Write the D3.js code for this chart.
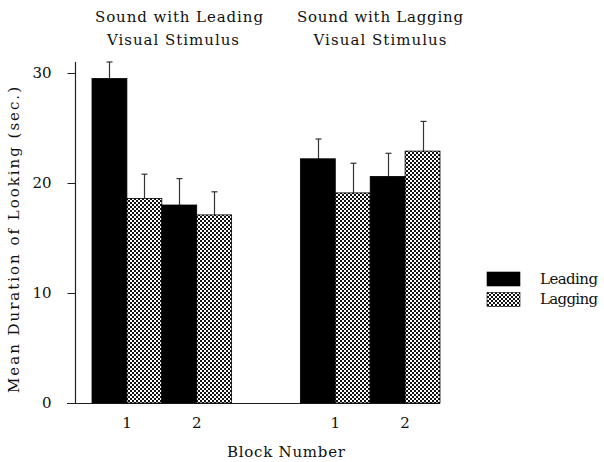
<!DOCTYPE html>
<html><head><meta charset="utf-8">
<script src="https://cdn.jsdelivr.net/npm/d3@7"></script>
<style>body{margin:0;background:#fff}svg{display:block}text{font-family:"DejaVu Serif",serif}</style>
</head><body>
<svg id="c" width="604" height="462"></svg>
<script>
const groups = ["Sound with Leading|Visual Stimulus", "Sound with Lagging|Visual Stimulus"];
const blocks = ["1", "2"];
const series = ["Leading", "Lagging"];
const leadingMeans = [29.5, 18.0, 22.2, 20.6];
const leadingErr = [31.0, 20.4, 24.0, 22.7];
const laggingMeans = [18.6, 17.1, 19.1, 22.9];
const laggingErr = [20.8, 19.2, 21.8, 25.6];
const yTicks = [0, 10, 20, 30];

const svg = d3.select("#c");
const font = '"DejaVu Serif", serif';
const defs = svg.append("defs");
const pat = defs.append("pattern").attr("id","hatch").attr("patternUnits","userSpaceOnUse")
  .attr("width",4).attr("height",4);
pat.append("rect").attr("width",4).attr("height",4).attr("fill","#fff");
pat.append("rect").attr("x",0).attr("y",0).attr("width",2).attr("height",2).attr("fill","#111");
pat.append("rect").attr("x",2).attr("y",2).attr("width",2).attr("height",2).attr("fill","#111");

const y = d3.scaleLinear().domain([0,30]).range([403,73]);
const xGroup = d3.scaleBand().domain([0,1]).range([92,440]).paddingInner(0.33).paddingOuter(0);
const rows = [];
groups.forEach((g,gi)=>blocks.forEach((b,bi)=>{
  const idx = gi*2+bi;
  rows.push({gi,bi,b,series:"Leading",v:leadingMeans[idx],e:leadingErr[idx]});
  rows.push({gi,bi,b,series:"Lagging",v:laggingMeans[idx],e:laggingErr[idx]});
}));
const xBlock = d3.scaleBand().domain([0,1]).range([0,xGroup.bandwidth()]);
const xSeries = d3.scaleBand().domain(series).range([0,xBlock.bandwidth()]);
const bx = d => xGroup(d.gi)+xBlock(d.bi)+xSeries(d.series);
const bw = xSeries.bandwidth();

svg.append("line").attr("x1",67).attr("x2",440).attr("y1",y(0)+0.5).attr("y2",y(0)+0.5)
  .attr("stroke","#222").attr("stroke-width",1.2);

const eb = svg.append("g").attr("stroke","#333").attr("stroke-width",1.2);
rows.forEach(d=>{
  const cx = Math.round(bx(d)+bw/2)+0.5;
  eb.append("line").attr("x1",cx).attr("x2",cx).attr("y1",y(d.v)).attr("y2",y(d.e));
  eb.append("line").attr("x1",cx-3).attr("x2",cx+3).attr("y1",y(d.e)).attr("y2",y(d.e));
});
svg.append("g").selectAll("rect").data(rows).join("rect")
  .attr("x",bx).attr("width",bw)
  .attr("y",d=>y(d.v)).attr("height",d=>y(0)-y(d.v))
  .attr("fill",d=>d.series==="Leading"?"#000":"url(#hatch)")
  .attr("stroke","#000").attr("stroke-width",0.8);

const ax = svg.append("g").attr("transform","translate(75.5,0)")
  .call(d3.axisLeft(y).tickValues(yTicks).tickSize(8).tickPadding(16).tickFormat(d3.format("d")));
ax.attr("font-family",null);
ax.select(".domain").attr("d","M0,62V"+y(0)).attr("stroke","#222").attr("stroke-width",1.2);
ax.selectAll(".tick line").attr("stroke","#222");
ax.selectAll(".tick text").style("font-family",font).style("font-size","15px").attr("fill","#111");

rows.filter(d=>d.series==="Leading").forEach(d=>{
  svg.append("text").attr("x",xGroup(d.gi)+xBlock(d.bi)+xBlock.bandwidth()/2).attr("y",428)
    .attr("text-anchor","middle").style("font-size","15px").attr("fill","#111").text(d.b);
});

const titleCx = [179, 380];
const titleW = [[168,132],[166,133]];
groups.forEach((g,gi)=>{
  g.split("|").forEach((t,li)=>{
    svg.append("text").attr("x",titleCx[gi] - (li===1 && gi===0 ? 6 : 0)).attr("y",22+li*23).attr("text-anchor","middle")
      .style("font-size","15px").attr("fill","#111")
      .attr("textLength",titleW[gi][li]).attr("lengthAdjust","spacing").text(t);
  });
});

svg.append("text").attr("x",286).attr("y",457).attr("text-anchor","middle")
  .style("font-size","15px").attr("fill","#111")
  .attr("textLength",118).attr("lengthAdjust","spacing").text("Block Number");
svg.append("text").attr("transform","translate(19,240) rotate(-90)").attr("text-anchor","middle")
  .style("font-size","15px").attr("fill","#111")
  .attr("textLength",306).attr("lengthAdjust","spacing").text("Mean Duration of Looking (sec.)");

const lg = svg.append("g").attr("transform","translate(487,272)");
series.forEach((s,i)=>{
  lg.append("rect").attr("x",0).attr("y",i*20.5).attr("width",33).attr("height",14)
    .attr("fill",s==="Leading"?"#000":"url(#hatch)").attr("stroke","#000").attr("stroke-width",0.6);
  lg.append("text").attr("x",53).attr("y",i*20+12).style("font-size","15px")
    .attr("fill","#111").attr("textLength",58).attr("lengthAdjust","spacing").text(s);
});
</script>
</body></html>
